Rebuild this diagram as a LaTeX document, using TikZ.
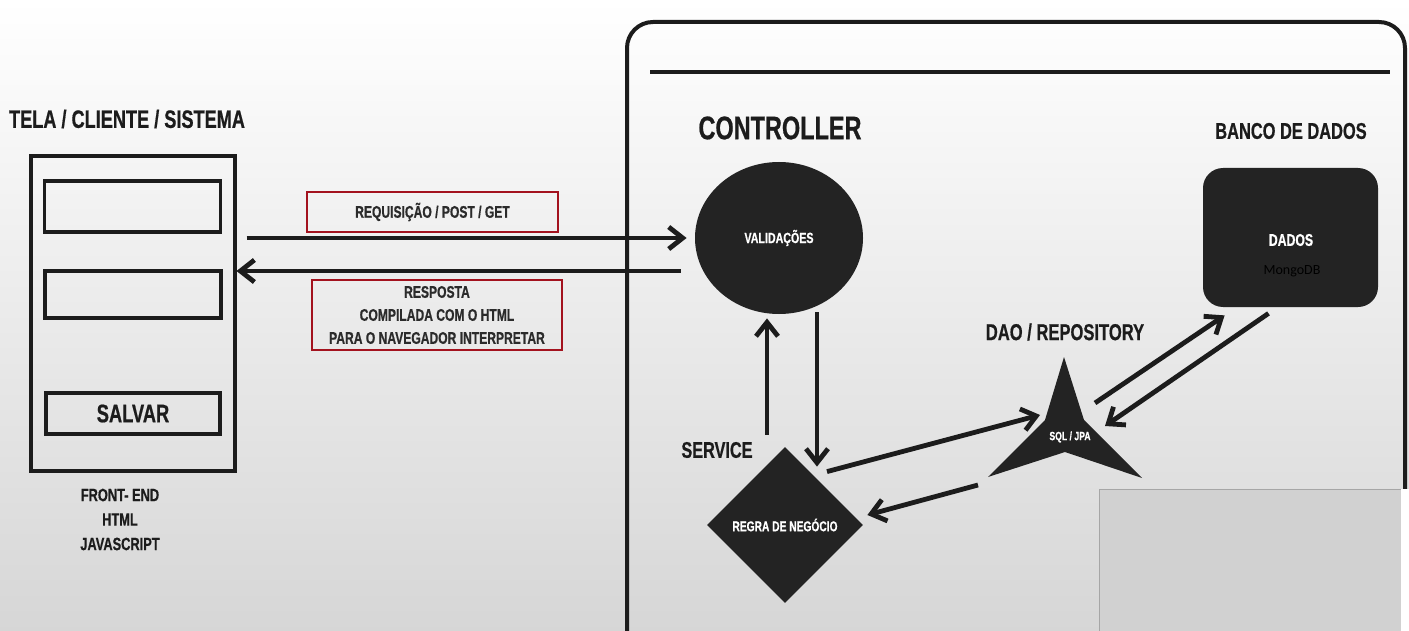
\documentclass[tikz,border=0pt]{standalone}
\usepackage{fontspec}
\setmainfont{Liberation Sans}
\newfontfamily\dinfont[FakeStretch=0.72,FakeBold=0.6]{Liberation Sans}
\newfontfamily\calfont{Carlito}
\usetikzlibrary{shapes.geometric,arrows.meta,calc}
\definecolor{ink}{HTML}{1C1C1C}
\definecolor{blob}{HTML}{232323}
\definecolor{boxred}{HTML}{A3121E}
\definecolor{txtgray}{HTML}{2B2B2B}
\begin{document}
\begin{tikzpicture}[x=0.5pt,y=-0.5pt,
  lbl/.style={font=\dinfont\bfseries\fontsize{#1}{#1}\selectfont,text=ink,inner sep=0pt},
  whitetxt/.style={lbl=#1,text=white},
  field/.style={draw=ink,line width=1.8pt},
  redbox/.style={draw=boxred,line width=1pt},
  arr/.style={draw=ink,line width=2.4pt,-{Straight Barb[length=7pt,width=11pt]}}]
\useasboundingbox (0,0) rectangle (1409,631);
\shade[top color=white,middle color=black!3,bottom color=black!16] (0,0) rectangle (1409,631);
% client side
\node[lbl=12.6] (title) at (127,119) {TELA / CLIENTE / SISTEMA};
\node[draw=ink,line width=2pt,minimum width=102pt,minimum height=157pt] (screen) at (132.5,313.5) {};
\node[field,minimum width=88pt,minimum height=25.5pt] (field1) at (132.5,206.5) {};
\node[field,minimum width=88pt,minimum height=23.5pt] (field2) at (133,294.5) {};
\node[field,lbl=12.7,minimum width=87pt,minimum height=20.5pt] (save) at (133,413.5) {SALVAR};
\node[lbl=8.9,align=center] (front) at (120,519.5) {FRONT- END\\[3.35pt]HTML\\[3.35pt]JAVASCRIPT};
\node[redbox,lbl=8.4,text=txtgray,minimum width=125.5pt,minimum height=20pt] (req) at (432.5,212) {REQUISIÇÃO / POST / GET};
\node[redbox,lbl=8.4,text=txtgray,align=center,minimum width=125pt,minimum height=35pt] (resp) at (437,315) {RESPOSTA\\[3.1pt]COMPILADA COM O HTML\\[3.1pt]PARA O NAVEGADOR INTERPRETAR};
% server frame
\draw[ink,line width=2pt,rounded corners=13pt] (627,631) -- (627,22) -- (1405,22) -- (1405,631);
\draw[ink,line width=2pt] (650,72) -- (1390,72);
\node[lbl=16.3] (ctrl) at (780,128) {CONTROLLER};
\node[ellipse,fill=blob,whitetxt=7.4,minimum width=84pt,minimum height=76pt] (valid) at (779,238) {VALIDAÇÕES};
\node[lbl=11.3] (service) at (717,450) {SERVICE};
\node[diamond,aspect=1,fill=blob,whitetxt=7.1,minimum width=78pt,minimum height=78pt] (rule) at (785,525) {REGRA DE NEGÓCIO};
\node[lbl=11.5] (daotitle) at (1065,332) {DAO / REPOSITORY};
\fill[blob] (1064,357) -- (1045,420) -- (988,477) -- (1065,452) -- (1142,478) -- (1084,420) -- cycle;
\coordinate (dao) at (1065,440);
\node[whitetxt=6] (sql) at (1070,437) {SQL / JPA};
\node[lbl=11.4] (dbtitle) at (1291,131) {BANCO DE DADOS};
\node[fill=blob,rounded corners=10pt,minimum width=87.5pt,minimum height=69.5pt] (db) at (1290.5,237.5) {};
\node[whitetxt=8.5] (dbtxt) at (1291,240) {DADOS};
\node[inner sep=0pt] (mongo) at (1292,271) {\calfont\fontsize{7}{7}\selectfont\color{black}MongoDB};
% connectors
\draw[arr] ($(screen.east |- valid.west)+(10,0)$) -- ($(valid.west)+(-8,0)$);
\draw[arr] ($(valid.west)+(-14,33)$) -- ($(screen.east |- valid.west)+(0,33)$);
\draw[arr] ($(rule.north)+(-18,-12)$) -- ($(valid.south)+(-12,4)$);
\draw[arr] ($(valid.south)+(38,-2)$) -- ($(rule.north)+(32,20)$);
\draw[arr] ($(rule.north)+(42,25)$) -- ($(dao)+(-25,-25)$);
\draw[arr] ($(dao)+(-87,45)$) -- ($(rule.east)+(4,-10)$);
\draw[arr] ($(dao)+(30,-37)$) -- ($(db.south west)+(22,8)$);
\draw[arr] ($(db.south)+(-22,6)$) -- ($(dao)+(40,-14)$);
% pasted patch
\fill[black!18] (1099,489) rectangle (1401,631);
\draw[black!35,line width=0.4pt] (1099,631) -- (1099,489) -- (1401,489);
\fill[white] (1401,489) rectangle (1409,631);
\end{tikzpicture}
\end{document}
